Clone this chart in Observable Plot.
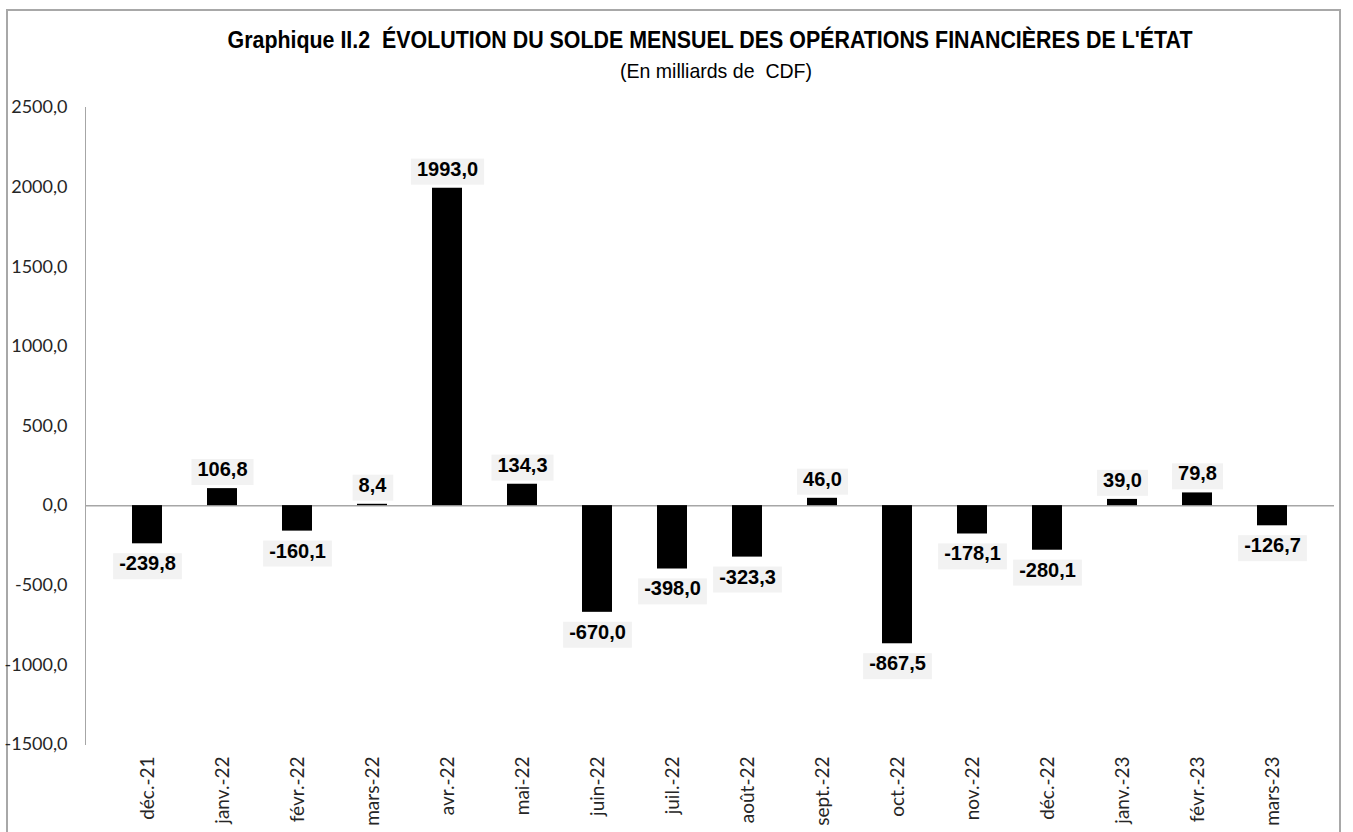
<!DOCTYPE html>
<html>
<head>
<meta charset="utf-8">
<script src="https://cdn.jsdelivr.net/npm/d3@7"></script>
<script src="https://cdn.jsdelivr.net/npm/@observablehq/plot@0.6"></script>
<style>
  body { margin: 0; background: #fff; }
  #wrap { position: relative; width: 1353px; height: 832px; overflow: hidden; }
  #border { position: absolute; left: 6px; top: 9px; width: 1335px; height: 840px; border: 2px solid #a8a8a8; box-sizing: border-box; }
  #title { position: absolute; left: 710px; top: 29px; transform: translateX(-50%) scaleX(0.93); white-space: nowrap;
           font-family: "Liberation Sans", Arial, sans-serif; font-weight: bold; font-size: 23px; color: #000; line-height: 1; }
  #subtitle { position: absolute; left: 716px; top: 60px; transform: translateX(-50%) scaleX(0.93); white-space: nowrap;
           font-family: "Liberation Sans", Arial, sans-serif; font-size: 21px; color: #000; line-height: 1; }
  #chart { position: absolute; left: 0; top: 0; }
</style>
</head>
<body>
<div id="wrap">
  <div id="border"></div>
  <div id="chart"></div>
  <div id="title">Graphique II.2&nbsp; ÉVOLUTION DU SOLDE MENSUEL DES OPÉRATIONS FINANCIÈRES DE L'ÉTAT</div>
  <div id="subtitle">(En milliards de&nbsp; CDF)</div>
</div>
<script>
const months = ["déc.-21","janv.-22","févr.-22","mars-22","avr.-22","mai-22","juin-22","juil.-22","août-22","sept.-22","oct.-22","nov.-22","déc.-22","janv.-23","févr.-23","mars-23"];
const values = [-239.8, 106.8, -160.1, 8.4, 1993.0, 134.3, -670.0, -398.0, -323.3, 46.0, -867.5, -178.1, -280.1, 39.0, 79.8, -126.7];
const yTicks = [-1500, -1000, -500, 0, 500, 1000, 1500, 2000, 2500];

const data = months.map((m, i) => ({month: m, value: values[i]}));
const fmt = d => d.toFixed(1).replace(".", ",");

const chart = Plot.plot({
  width: 1353,
  height: 832,
  marginTop: 107,
  marginBottom: 88,
  marginLeft: 85,
  marginRight: 19,
  style: {fontFamily: "Lato, 'Open Sans', sans-serif", fontSize: "19px", color: "#262626", background: "transparent"},
  x: {domain: months, padding: 0.6, label: null},
  y: {domain: [-1500, 2500], label: null},
  marks: [
    Plot.axisY({ticks: yTicks, tickFormat: fmt, tickSize: 0, tickPadding: 18, fontSize: 18, label: null}),
    Plot.axisX({tickRotate: -90, tickSize: 0, tickPadding: 12, label: null}),
    Plot.frame({anchor: "left", stroke: "#a6a6a6"}),
    Plot.ruleY([0], {stroke: "#a6a6a6", strokeWidth: 1.5}),
    Plot.barY(data, {x: "month", y: "value", fill: "#000"}),
    Plot.text(data.filter(d => d.value >= 0), {x: "month", y: "value", text: d => fmt(d.value), dy: -19,
      fill: "#000", fontFamily: "'Liberation Sans', Arial, sans-serif", fontWeight: "bold", fontSize: 20}),
    Plot.text(data.filter(d => d.value < 0), {x: "month", y: "value", text: d => fmt(d.value), dy: 20,
      fill: "#000", fontFamily: "'Liberation Sans', Arial, sans-serif", fontWeight: "bold", fontSize: 20})
  ]
});
document.getElementById("chart").append(chart);

// grey boxes behind the value labels
const ns = "http://www.w3.org/2000/svg";
chart.querySelectorAll('g[aria-label="text"] text').forEach(t => {
  const b = t.getBBox();
  const r = document.createElementNS(ns, "rect");
  r.setAttribute("x", b.x - 6);
  r.setAttribute("y", b.y + 1);
  r.setAttribute("width", b.width + 12);
  r.setAttribute("height", b.height + 4);
  r.setAttribute("fill", "#f2f2f2");
  r.setAttribute("stroke", "none");
  const tr = t.getAttribute("transform");
  if (tr) r.setAttribute("transform", tr);
  t.parentNode.insertBefore(r, t);
});
</script>
</body>
</html>
